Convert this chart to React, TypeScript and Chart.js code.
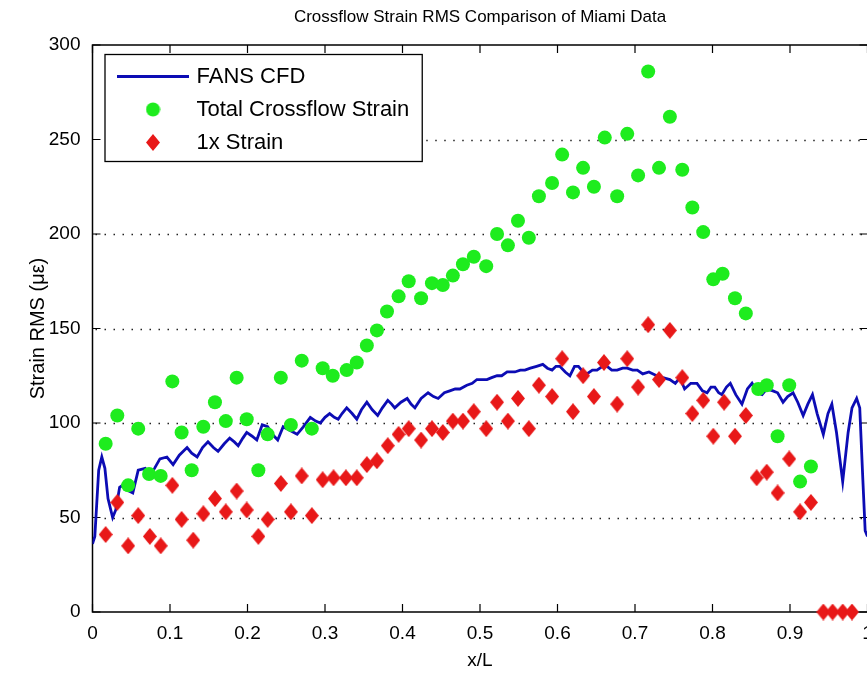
import React, { useEffect, useRef } from "react";
import { Chart, registerables } from "chart.js";

Chart.register(...registerables);

const chartTitle = "Crossflow Strain RMS Comparison of Miami Data";
const xAxisLabel = "x/L";
const yAxisLabel = "Strain RMS (με)";
const seriesNames = ["FANS CFD", "Total Crossflow Strain", "1x Strain"];

const xTicks = [0, 0.1, 0.2, 0.3, 0.4, 0.5, 0.6, 0.7, 0.8, 0.9, 1];
const yTicks = [0, 50, 100, 150, 200, 250, 300];
const yGridValues = [50, 100, 150, 200, 250];

const cfdX = [
  0.0, 0.003, 0.008, 0.012, 0.016, 0.02, 0.026, 0.03, 0.035, 0.042, 0.047, 0.052, 0.059, 0.068, 0.074, 0.08,
  0.087, 0.096, 0.104, 0.112, 0.122, 0.128, 0.135, 0.142, 0.149, 0.156, 0.162, 0.17, 0.177, 0.183, 0.188,
  0.194, 0.199, 0.206, 0.212, 0.219, 0.226, 0.232, 0.239, 0.246, 0.255, 0.264, 0.272, 0.281, 0.288, 0.294,
  0.3, 0.306, 0.312, 0.317, 0.322, 0.328, 0.335, 0.341, 0.347, 0.354, 0.361, 0.368, 0.374, 0.381, 0.386,
  0.39, 0.398, 0.406, 0.411, 0.416, 0.424, 0.433, 0.44, 0.446, 0.454, 0.461, 0.468, 0.474, 0.483, 0.49,
  0.496, 0.509, 0.515, 0.522, 0.528, 0.535, 0.545, 0.552, 0.558, 0.565, 0.573, 0.581, 0.587, 0.593, 0.598,
  0.603, 0.61, 0.616, 0.622, 0.627, 0.633, 0.638, 0.645, 0.651, 0.658, 0.664, 0.67, 0.677, 0.684, 0.69,
  0.697, 0.703, 0.71, 0.718, 0.728, 0.736, 0.745, 0.752, 0.758, 0.764, 0.772, 0.78, 0.787, 0.793, 0.798,
  0.803, 0.808, 0.812, 0.818, 0.823, 0.83, 0.838, 0.845, 0.851, 0.858, 0.864, 0.87, 0.878, 0.884, 0.891,
  0.897, 0.904, 0.91, 0.917, 0.923, 0.929, 0.935, 0.943, 0.949, 0.954, 0.96, 0.968, 0.975, 0.98, 0.986,
  0.99, 0.994, 0.997, 1.0,
];
const cfdY = [
  36, 40, 75, 82, 76, 60, 50, 54, 66, 68, 64, 63, 75, 76, 72, 76,
  81, 82, 78, 83, 87, 84, 82, 87, 90, 87, 85, 89, 92, 90, 88,
  92, 95, 93, 91, 99, 98, 94, 91, 98, 96, 94, 98, 103, 101, 100,
  103, 105, 103, 102, 105, 108, 105, 102, 107, 111, 107, 104, 108, 112, 110,
  108, 111, 113, 110, 108, 113, 116, 114, 113, 116, 117, 118, 118, 120, 121,
  123, 123, 124, 125, 125, 127, 127, 128, 128, 129, 130, 131, 129, 128, 130,
  130, 127, 125, 130, 130, 127, 126, 128, 128, 130, 130, 128, 128, 129, 129,
  128, 128, 126, 127, 125, 124, 123, 121, 124, 118, 121, 121, 117, 116, 119,
  119, 116, 115, 119, 121, 115, 110, 118, 121, 116, 115, 118, 117, 116, 111,
  114, 116, 111, 104, 110, 115, 105, 94, 105, 110, 95, 69, 95, 108, 113,
  108, 70, 43, 40,
];

const totalX = [
  0.017, 0.032, 0.046, 0.059, 0.073, 0.088, 0.103, 0.115, 0.128, 0.143, 0.158, 0.172, 0.186, 0.199, 0.214,
  0.226, 0.243, 0.256, 0.27, 0.283, 0.297, 0.31, 0.328, 0.341, 0.354, 0.367, 0.38, 0.395, 0.408, 0.424,
  0.438, 0.452, 0.465, 0.478, 0.492, 0.508, 0.522, 0.536, 0.549, 0.563, 0.576, 0.593, 0.606, 0.62, 0.633,
  0.647, 0.661, 0.677, 0.69, 0.704, 0.717, 0.731, 0.745, 0.761, 0.774, 0.788, 0.801, 0.813, 0.829, 0.843,
  0.859, 0.87, 0.884, 0.899, 0.913, 0.927,
];
const totalY = [
  89, 104, 67, 97, 73, 72, 122, 95, 75, 98, 111, 101, 124, 102, 75,
  94, 124, 99, 133, 97, 129, 125, 128, 132, 141, 149, 159, 167, 175, 166,
  174, 173, 178, 184, 188, 183, 200, 194, 207, 198, 220, 227, 242, 222, 235,
  225, 251, 220, 253, 231, 286, 235, 262, 234, 214, 201, 176, 179, 166, 158,
  118, 120, 93, 120, 69, 77,
];

const oneX = [
  0.017, 0.032, 0.046, 0.059, 0.074, 0.088, 0.103, 0.115, 0.13, 0.143, 0.158, 0.172, 0.186, 0.199, 0.214,
  0.226, 0.243, 0.256, 0.27, 0.283, 0.297, 0.311, 0.327, 0.341, 0.354, 0.367, 0.381, 0.395, 0.408, 0.424,
  0.438, 0.452, 0.465, 0.478, 0.492, 0.508, 0.522, 0.536, 0.549, 0.563, 0.576, 0.593, 0.606, 0.62, 0.633,
  0.647, 0.66, 0.677, 0.69, 0.704, 0.717, 0.731, 0.745, 0.761, 0.774, 0.788, 0.801, 0.815, 0.829, 0.843,
  0.857, 0.87, 0.884, 0.899, 0.913, 0.927, 0.943, 0.955, 0.968, 0.98,
];
const oneY = [
  41, 58, 35, 51, 40, 35, 67, 49, 38, 52, 60, 53, 64, 54, 40,
  49, 68, 53, 72, 51, 70, 71, 71, 71, 78, 80, 88, 94, 97, 91,
  97, 95, 101, 101, 106, 97, 111, 101, 113, 97, 120, 114, 134, 106, 125,
  114, 132, 110, 134, 119, 152, 123, 149, 124, 105, 112, 93, 111, 93, 104,
  71, 74, 63, 81, 53, 58, 0, 0, 0, 0,
];

const BLUE = "#0c0cb4";
const GREEN = "#1eec1e";
const RED = "#e81818";
const FONT = "'Liberation Sans', Arial, sans-serif";

const CANVAS_W = 867;
const CANVAS_H = 677;
const PLOT_RIGHT = 867.5;
const LEGEND_FS = 22;
const LEGEND_PAD = 11;
const LEGEND_BOX_W = 65;
const TICK_LEN = 8;

function makeImages() {
  const line = document.createElement("canvas");
  line.width = 72;
  line.height = 3;
  const lg = line.getContext("2d")!;
  lg.fillStyle = BLUE;
  lg.fillRect(0, 0, 72, 3);

  const dot = document.createElement("canvas");
  dot.width = 15;
  dot.height = 15;
  const dg = dot.getContext("2d")!;
  dg.fillStyle = GREEN;
  dg.beginPath();
  dg.arc(7.5, 7.5, 7, 0, Math.PI * 2);
  dg.fill();

  const dia = document.createElement("canvas");
  dia.width = 14;
  dia.height = 17;
  const rg = dia.getContext("2d")!;
  rg.fillStyle = RED;
  rg.beginPath();
  rg.moveTo(7, 0);
  rg.lineTo(14, 8.5);
  rg.lineTo(7, 17);
  rg.lineTo(0, 8.5);
  rg.closePath();
  rg.fill();
  return { line, dot, dia };
}

function legendRect(chart: any) {
  const lg = chart.legend;
  const ctx = chart.ctx;
  ctx.save();
  ctx.font = `${LEGEND_FS}px ${FONT}`;
  let maxW = 0;
  seriesNames.forEach((s) => (maxW = Math.max(maxW, ctx.measureText(s).width)));
  ctx.restore();
  const textStart = lg.left + LEGEND_PAD + LEGEND_BOX_W + LEGEND_FS / 2;
  const c0 = lg.top + LEGEND_PAD + LEGEND_FS / 2;
  return {
    x1: lg.left - 4.5,
    x2: textStart + maxW + 13,
    y1: c0 - 22,
    y2: c0 + 2 * (LEGEND_FS + LEGEND_PAD) + 19,
  };
}

const framePlugin = {
  id: "matlabFrame",
  afterLayout(chart: any) {
    const ca = chart.chartArea;
    const xs = chart.scales.x;
    if (ca && xs) {
      ca.right = PLOT_RIGHT;
      ca.width = PLOT_RIGHT - ca.left;
      xs.right = PLOT_RIGHT;
      xs.width = PLOT_RIGHT - xs.left;
      xs.configure();
      const tb = chart.titleBlock;
      if (tb) {
        tb.left = ca.left;
        tb.right = PLOT_RIGHT;
        tb.width = PLOT_RIGHT - ca.left;
      }
    }
    const lg = chart.legend;
    if (lg && ca) {
      const w = lg.width;
      const h = lg.height;
      lg.left = ca.left + 17;
      lg.top = ca.top + 9.5;
      lg.right = lg.left + w;
      lg.bottom = lg.top + h;
    }
  },
  beforeDraw(chart: any) {
    const { ctx, chartArea } = chart;
    const ys = chart.scales.y;
    const r = legendRect(chart);
    ctx.save();
    ctx.fillStyle = "#fff";
    ctx.fillRect(0, 0, chart.width, chart.height);
    ctx.strokeStyle = "#222";
    ctx.lineWidth = 1.5;
    ctx.setLineDash([1.5, 7.5]);
    yGridValues.forEach((v) => {
      const py = Math.round(ys.getPixelForValue(v)) + 0.5;
      const startX = py > r.y1 && py < r.y2 ? r.x2 + 4 : chartArea.left + 3;
      ctx.beginPath();
      ctx.moveTo(startX, py);
      ctx.lineTo(chartArea.right, py);
      ctx.stroke();
    });
    ctx.setLineDash([]);
    ctx.strokeStyle = "#000";
    ctx.lineWidth = 1.3;
    ctx.strokeRect(r.x1, r.y1, r.x2 - r.x1, r.y2 - r.y1);
    ctx.restore();
  },
  beforeDatasetsDraw(chart: any) {
    const { ctx, chartArea } = chart;
    const xs = chart.scales.x;
    const ys = chart.scales.y;
    const { left, right, top, bottom } = chartArea;
    ctx.save();
    ctx.strokeStyle = "#000";
    ctx.lineWidth = 1.5;
    ctx.beginPath();
    ctx.moveTo(right, top);
    ctx.lineTo(left, top);
    ctx.lineTo(left, bottom);
    ctx.lineTo(right, bottom);
    ctx.stroke();
    ctx.lineWidth = 1.2;
    ctx.beginPath();
    xTicks.forEach((v) => {
      const px = xs.getPixelForValue(v);
      ctx.moveTo(px, bottom);
      ctx.lineTo(px, bottom - TICK_LEN);
      ctx.moveTo(px, top);
      ctx.lineTo(px, top + TICK_LEN);
    });
    yTicks.forEach((v) => {
      const py = ys.getPixelForValue(v);
      ctx.moveTo(left, py);
      ctx.lineTo(left + TICK_LEN, py);
      ctx.moveTo(right, py);
      ctx.lineTo(right - TICK_LEN, py);
    });
    ctx.stroke();
    ctx.restore();
  },
};

export default function App() {
  const ref = useRef<HTMLCanvasElement | null>(null);

  useEffect(() => {
    if (!ref.current) return;
    const imgs = makeImages();
    const legendImgs = [imgs.line, imgs.dot, imgs.dia];

    const chart = new Chart(ref.current, {
      type: "scatter",
      data: {
        datasets: [
          {
            label: seriesNames[0],
            data: cfdX.map((x, i) => ({ x, y: cfdY[i] })),
            showLine: true,
            borderColor: BLUE,
            backgroundColor: BLUE,
            borderWidth: 2.8,
            pointRadius: 0,
            tension: 0,
            order: 1,
          },
          {
            label: seriesNames[1],
            data: totalX.map((x, i) => ({ x, y: totalY[i] })),
            pointStyle: "circle",
            pointRadius: 7,
            backgroundColor: GREEN,
            borderColor: GREEN,
            borderWidth: 0,
            clip: false,
            order: 0,
          },
          {
            label: seriesNames[2],
            data: oneX.map((x, i) => ({ x, y: oneY[i] })),
            pointStyle: imgs.dia,
            pointRadius: 7,
            backgroundColor: RED,
            borderColor: RED,
            clip: false,
            order: 0,
          },
        ],
      },
      options: {
        responsive: false,
        animation: false,
        events: [],
        layout: { padding: 0 },
        plugins: {
          tooltip: { enabled: false },
          title: {
            display: true,
            text: chartTitle,
            fullSize: false,
            color: "#000",
            font: { family: FONT, size: 17, weight: "normal" },
            padding: { top: 7, bottom: 17.6 },
          },
          legend: {
            display: true,
            position: "chartArea",
            align: "start",
            labels: {
              usePointStyle: true,
              pointStyleWidth: LEGEND_BOX_W,
              boxHeight: 10,
              padding: LEGEND_PAD,
              color: "#000",
              font: { family: FONT, size: LEGEND_FS },
              generateLabels: (c: any) => {
                const items = (Chart.defaults.plugins.legend.labels as any).generateLabels(c);
                items.sort((a: any, b: any) => a.datasetIndex - b.datasetIndex);
                items.forEach((it: any) => {
                  it.pointStyle = legendImgs[it.datasetIndex];
                });
                return items;
              },
            },
          },
        },
        scales: {
          x: {
            type: "linear",
            min: 0,
            max: 1,
            grid: { display: false, drawTicks: false },
            border: { display: false },
            afterBuildTicks: (s: any) => {
              s.ticks = xTicks.map((v) => ({ value: v }));
            },
            afterFit: (s: any) => {
              s.height = 65;
            },
            ticks: {
              color: "#000",
              padding: 10,
              maxRotation: 0,
              autoSkip: false,
              font: { family: FONT, size: 19 },
              callback: (v: any) => String(Math.round(Number(v) * 10) / 10),
            },
            title: {
              display: true,
              text: xAxisLabel,
              color: "#000",
              font: { family: FONT, size: 19 },
              padding: { top: 0, bottom: 5 },
            },
          },
          y: {
            type: "linear",
            min: 0,
            max: 300,
            grid: { display: false, drawTicks: false },
            border: { display: false },
            afterBuildTicks: (s: any) => {
              s.ticks = yTicks.map((v) => ({ value: v }));
            },
            afterFit: (s: any) => {
              s.width = 92.5;
            },
            ticks: {
              color: "#000",
              padding: 12,
              autoSkip: false,
              font: { family: FONT, size: 19 },
              callback: (v: any) => String(v),
            },
            title: {
              display: true,
              text: yAxisLabel,
              color: "#000",
              font: { family: FONT, size: 20 },
              padding: { top: 26, bottom: 0 },
            },
          },
        },
      },
      plugins: [framePlugin],
    } as any);

    return () => chart.destroy();
  }, []);

  return (
    <div
      style={{
        position: "fixed",
        left: 0,
        top: 0,
        width: 867,
        height: 677,
        overflow: "hidden",
        background: "#fff",
      }}
    >
      <canvas ref={ref} width={CANVAS_W} height={CANVAS_H} style={{ display: "block" }} />
    </div>
  );
}
